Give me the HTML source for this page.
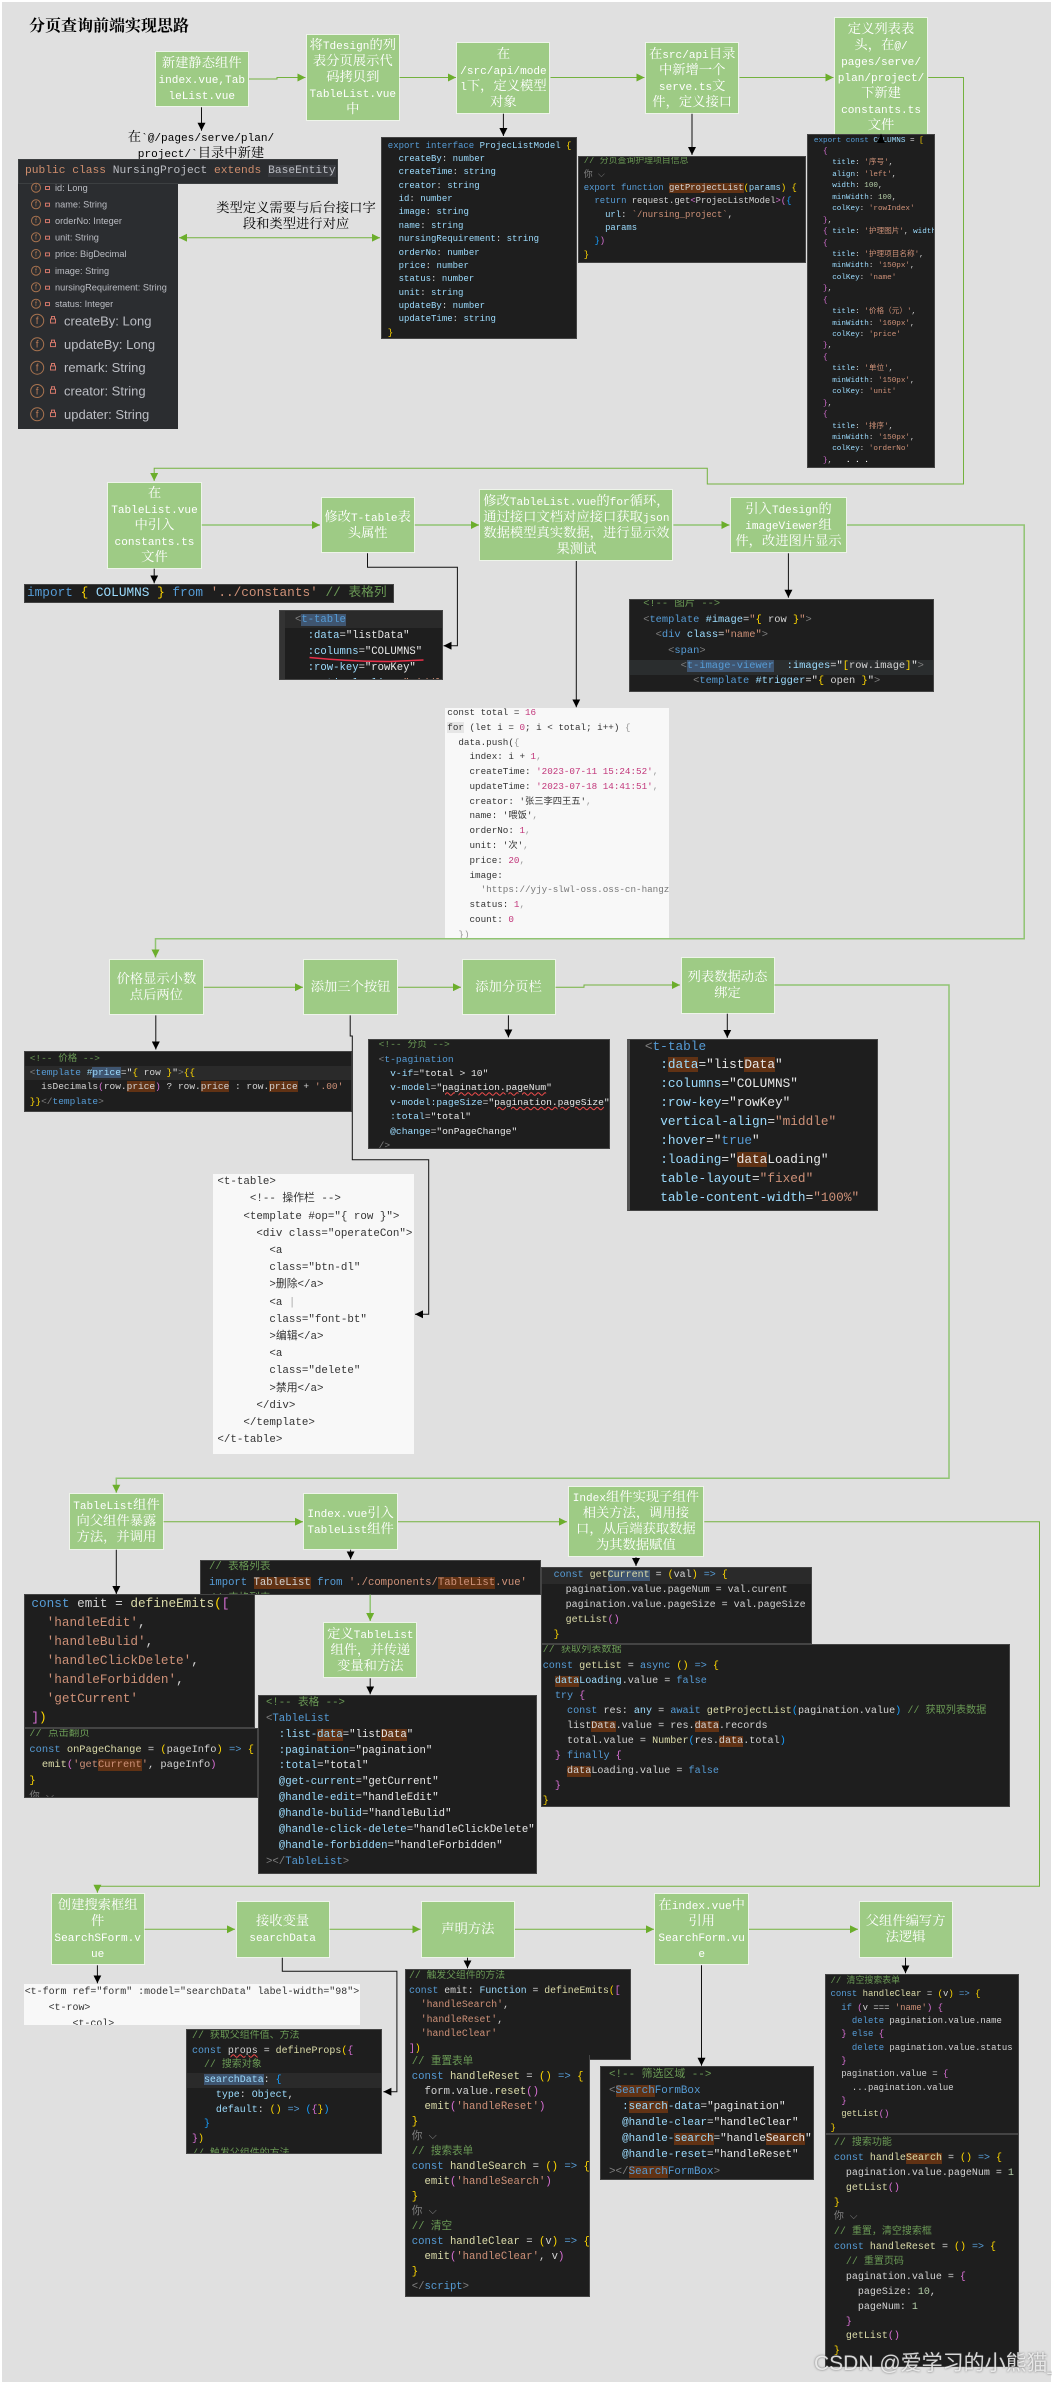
<!DOCTYPE html>
<html><head><meta charset="utf-8"><title>分页查询前端实现思路</title>
<style>
html,body{margin:0;padding:0;background:#fff}
body{position:relative;width:1052px;height:2382px;overflow:hidden}
#bg{position:absolute;left:2px;top:2px;width:1049px;height:2380px;background:#e0e0e0}
.n{position:absolute;box-sizing:border-box;background:#9ecb85;border:1px solid #eef4ea;color:#fff;display:flex;align-items:center;justify-content:center;text-align:center;font:13.3px/16px "Liberation Serif","Noto Serif CJK SC",serif;white-space:nowrap}
.t{position:absolute;color:#000;text-align:center;font:13.3px/16px "Liberation Serif","Noto Serif CJK SC",serif;white-space:nowrap}
.n i,.t i{font-style:normal;font-family:"Liberation Mono",monospace;font-size:11.1px;line-height:0}
pre{position:absolute;box-sizing:border-box;margin:0;overflow:hidden;white-space:pre;background-color:#1e1e1e;border:1px solid #444;color:#d4d4d4;font-family:"Liberation Mono","Noto Sans CJK SC",monospace;filter:blur(.25px)}
pre.w{background-color:#f8f8f8;border:0;color:#333}
pre div{display:block}
.k{color:#569cd6}.f{color:#dcdcaa}.s{color:#ce9178}.c{color:#6a9955}.a{color:#9cdcfe}.y{color:#ffd700}.p{color:#da70d6}.b{color:#179fff}.g{color:#808080}.m{color:#b5cea8}
.h{background:#613214}.e{background:#3f5570}
.r{color:#c2377b}.q{color:#999}
.u{text-decoration:underline wavy #f14c4c 1px}
svg{position:absolute;left:0;top:0}
.gl{fill:none;stroke:#74b23f;stroke-width:1}
.gt{fill:none;stroke:#90c472;stroke-width:1.5}
.bl{fill:none;stroke:#111;stroke-width:1}
</style></head><body>
<div id="bg"></div>
<div style="position:absolute;left:29px;top:16px;font:bold 16px/22px 'Liberation Serif','Noto Serif CJK SC',serif;color:#000;white-space:nowrap">分页查询前端实现思路</div>

<!-- row 1 -->
<div class="n" style="left:154.5px;top:50.7px;width:94.5px;height:56.6px"><span>新建静态组件<br><i>index.vue,Tab</i><br><i>leList.vue</i></span></div>
<div class="n" style="left:306px;top:33.7px;width:93.6px;height:87px"><span>将<i>Tdesign</i>的列<br>表分页展示代<br>码拷贝到<br><i>TableList.vue</i><br>中</span></div>
<div class="n" style="left:456.4px;top:41.7px;width:94.1px;height:72px"><span>在<br><i>/src/api/mode</i><br><i>l</i>下，定义模型<br>对象</span></div>
<div class="n" style="left:644.9px;top:41.7px;width:94.6px;height:72px"><span>在<i>src/api</i>目录<br>中新增一个<br><i>serve.ts</i>文<br>件，定义接口</span></div>
<div class="n" style="left:833.9px;top:17px;width:94.3px;height:120px"><span>定义列表表<br>头，在<i>@/</i><br><i>pages/serve/</i><br><i>plan/project/</i><br>下新建<br><i>constants.ts</i><br>文件</span></div>
<div class="t" style="left:101px;top:128.7px;width:200px">在<i>`@/pages/serve/plan/</i><br><i>project/`</i>目录中新建</div>
<div class="t" style="left:196px;top:200.3px;width:200px">类型定义需要与后台接口字<br>段和类型进行对应</div>

<pre style="left:18px;top:159.3px;width:320.4px;height:24.4px;font-size:11.25px;line-height:22px;padding-left:6px;background-color:#2b2d30;border-color:#3c3f41;color:#bcbec4"><span style="color:#cf8e6d">public class</span> NursingProject <span style="color:#cf8e6d">extends</span> <span style="background:#393b40">BaseEntity</span></pre>
<div style="position:absolute;left:18px;top:183.7px;width:160px;height:245px;background:#2b2d30"></div>
<svg width="1052" height="2382" style="font-family:'Liberation Sans',sans-serif">
<g fill="none" stroke="#a8734f" stroke-width="1">
<circle cx="36" cy="187.7" r="4.5"/><circle cx="36" cy="204.3" r="4.5"/><circle cx="36" cy="220.7" r="4.5"/><circle cx="36" cy="237.3" r="4.5"/><circle cx="36" cy="254" r="4.5"/><circle cx="36" cy="270.7" r="4.5"/><circle cx="36" cy="287.3" r="4.5"/><circle cx="36" cy="303.7" r="4.5"/>
<circle cx="37.2" cy="320.7" r="6.5"/><circle cx="37.2" cy="344.3" r="6.5"/><circle cx="37.2" cy="367.7" r="6.5"/><circle cx="37.2" cy="391" r="6.5"/><circle cx="37.2" cy="414.3" r="6.5"/>
</g>
<g fill="#a8734f" font-size="7" text-anchor="middle"><text x="36" y="190">f</text><text x="36" y="206.6">f</text><text x="36" y="223">f</text><text x="36" y="239.6">f</text><text x="36" y="256.3">f</text><text x="36" y="273">f</text><text x="36" y="289.6">f</text><text x="36" y="306">f</text></g>
<g fill="#b87b57" font-size="10" text-anchor="middle"><text x="37.2" y="324">f</text><text x="37.2" y="347.6">f</text><text x="37.2" y="371">f</text><text x="37.2" y="394.3">f</text><text x="37.2" y="417.6">f</text></g>
<g fill="none" stroke="#d2776a" stroke-width="1">
<rect x="45.5" y="186.5" width="4" height="3"/><rect x="45.5" y="203.2" width="4" height="3"/><rect x="45.5" y="219.6" width="4" height="3"/><rect x="45.5" y="236.2" width="4" height="3"/><rect x="45.5" y="252.9" width="4" height="3"/><rect x="45.5" y="269.6" width="4" height="3"/><rect x="45.5" y="286.2" width="4" height="3"/><rect x="45.5" y="302.6" width="4" height="3"/>
<rect x="50.5" y="319" width="5" height="4"/><rect x="50.5" y="342.6" width="5" height="4"/><rect x="50.5" y="366" width="5" height="4"/><rect x="50.5" y="389.3" width="5" height="4"/><rect x="50.5" y="412.6" width="5" height="4"/>
<path d="M51.5 319v-2.5h3v2.5M51.5 342.6v-2.5h3v2.5M51.5 366v-2.5h3v2.5M51.5 389.3v-2.5h3v2.5M51.5 412.6v-2.5h3v2.5"/>
</g>
<g fill="#bcbec4" font-size="9.2"><text x="55" y="191">id: Long</text><text x="55" y="207.5">name: String</text><text x="55" y="224">orderNo: Integer</text><text x="55" y="240.5">unit: String</text><text x="55" y="257.2">price: BigDecimal</text><text x="55" y="274">image: String</text><text x="55" y="290.5">nursingRequirement: String</text><text x="55" y="307">status: Integer</text></g>
<g fill="#bcbec4" font-size="13"><text x="64" y="325.3">createBy: Long</text><text x="64" y="348.8">updateBy: Long</text><text x="64" y="372.2">remark: String</text><text x="64" y="395.5">creator: String</text><text x="64" y="418.8">updater: String</text></g>
</svg>

<pre style="left:381.3px;top:137px;width:195.7px;height:201.7px;font-size:9px;line-height:13.38px;padding:1.6px 0 0 5.5px"><span class="k">export interface</span> <span class="a">ProjecListModel</span> <span class="y">{</span>
  <span class="a">createBy</span>: <span class="a">number</span>
  <span class="a">createTime</span>: <span class="a">string</span>
  <span class="a">creator</span>: <span class="a">string</span>
  <span class="a">id</span>: <span class="a">number</span>
  <span class="a">image</span>: <span class="a">string</span>
  <span class="a">name</span>: <span class="a">string</span>
  <span class="a">nursingRequirement</span>: <span class="a">string</span>
  <span class="a">orderNo</span>: <span class="a">number</span>
  <span class="a">price</span>: <span class="a">number</span>
  <span class="a">status</span>: <span class="a">number</span>
  <span class="a">unit</span>: <span class="a">string</span>
  <span class="a">updateBy</span>: <span class="a">number</span>
  <span class="a">updateTime</span>: <span class="a">string</span>
<span class="y">}</span></pre>

<pre style="left:578.4px;top:156px;width:227.3px;height:106.7px;font-size:8.9px;line-height:13.33px;padding:0 0 0 4.4px"><div style="margin-top:-1.8px"><span class="c">// 分页查询护理项目信息</span>
<span class="g">你 ⌵</span>
<span class="k">export function</span> <span class="h">getProjectList</span><span class="y">(</span><span class="a">params</span><span class="y">) {</span>
  <span class="k">return</span> request.get<span class="p">&lt;</span>ProjecListModel<span class="p">&gt;</span><span class="p">(</span><span class="b">{</span>
    <span class="a">url</span>: <span class="s">`/nursing_project`</span>,
    <span class="a">params</span>
  <span class="b">}</span><span class="p">)</span>
<span class="y">}</span></div></pre>

<pre style="left:807.4px;top:134px;width:127.6px;height:333.7px;font-size:7.63px;line-height:11.43px;padding:0.6px 0 0 5.5px"><span class="k">export const</span> <span class="a">COLUMNS</span> = <span class="y">[</span>
  <span class="p">{</span>
    <span class="a">title</span>: <span class="s">'序号'</span>,
    <span class="a">align</span>: <span class="s">'left'</span>,
    <span class="a">width</span>: <span class="m">100</span>,
    <span class="a">minWidth</span>: <span class="m">100</span>,
    <span class="a">colKey</span>: <span class="s">'rowIndex'</span>
  <span class="p">}</span>,
  <span class="p">{</span> <span class="a">title</span>: <span class="s">'护理图片'</span>, <span class="a">width</span>: <span class="m">120</span>, colKey: <span class="s">'image'</span> },
  <span class="p">{</span>
    <span class="a">title</span>: <span class="s">'护理项目名称'</span>,
    <span class="a">minWidth</span>: <span class="s">'150px'</span>,
    <span class="a">colKey</span>: <span class="s">'name'</span>
  <span class="p">}</span>,
  <span class="p">{</span>
    <span class="a">title</span>: <span class="s">'价格（元）'</span>,
    <span class="a">minWidth</span>: <span class="s">'160px'</span>,
    <span class="a">colKey</span>: <span class="s">'price'</span>
  <span class="p">}</span>,
  <span class="p">{</span>
    <span class="a">title</span>: <span class="s">'单位'</span>,
    <span class="a">minWidth</span>: <span class="s">'150px'</span>,
    <span class="a">colKey</span>: <span class="s">'unit'</span>
  <span class="p">}</span>,
  <span class="p">{</span>
    <span class="a">title</span>: <span class="s">'排序'</span>,
    <span class="a">minWidth</span>: <span class="s">'150px'</span>,
    <span class="a">colKey</span>: <span class="s">'orderNo'</span>
  <span class="p">}</span>,   <span style="color:#fff;font-weight:bold">. . .</span></pre>

<!-- row 2 -->
<div class="n" style="left:107.2px;top:481.7px;width:94.6px;height:87px"><span>在<br><i>TableList.vue</i><br>中引入<br><i>constants.ts</i><br>文件</span></div>
<div class="n" style="left:320.5px;top:496.7px;width:94.3px;height:56.6px"><span>修改<i>T-table</i>表<br>头属性</span></div>
<div class="n" style="left:479.4px;top:489.3px;width:194px;height:71.7px"><span>修改<i>TableList.vue</i>的<i>for</i>循环，<br>通过接口文档对应接口获取<i>json</i><br>数据模型真实数据，进行显示效<br>果测试</span></div>
<div class="n" style="left:730px;top:496.7px;width:117px;height:56.6px"><span>引入<i>Tdesign</i>的<br><i>imageViewer</i>组<br>件，改进图片显示</span></div>

<pre style="left:24.3px;top:584.3px;width:369.9px;height:19px;font-size:12.75px;line-height:15px;padding-left:1.7px"><span class="k">import</span> <span class="y">{</span> <span class="a">COLUMNS</span> <span class="y">}</span> <span class="k">from</span> <span class="s">'../constants'</span> <span class="c">// 表格列</span></pre>

<pre style="left:279.2px;top:610.3px;width:164px;height:69.4px;font-size:10.6px;line-height:16px;padding:.7px 0 0 14.8px;box-shadow:inset 5px 0 0 #333;background:linear-gradient(#2a2a2a,#2a2a2a) 0 0/100% 17px no-repeat #1e1e1e"><span class="g">&lt;</span><span class="k" style="background:#3f5570">t-table</span>
  <span class="a">:data</span>=<span style="color:#e8e8e8">"listData"</span>
  <span class="a">:columns</span>=<span style="color:#e8e8e8">"COLUMNS"</span>
  <span class="a">:row-key</span>=<span style="color:#e8e8e8">"rowKey"</span>
  <span class="a">vertical-align</span>=<span class="s">"middle"</span></pre>

<pre class="w" style="left:444.6px;top:708.3px;width:224px;height:230.4px;font-size:9.25px;line-height:14.8px;padding-left:2.7px"><div style="margin-top:-2.4px">const total = <span class="r">16</span>
<span style="background:#e6e6e6">for</span> (let i = <span class="r">0</span>; i &lt; total; i++) <span class="q">{</span>
  data.push(<span class="q">{</span>
    index: i + <span class="r">1</span><span class="q">,</span>
    createTime: <span class="r">'2023-07-11 15:24:52'</span><span class="q">,</span>
    updateTime: <span class="r">'2023-07-18 14:41:51'</span><span class="q">,</span>
    creator: '张三李四王五'<span class="q">,</span>
    name: '喂饭'<span class="q">,</span>
    orderNo: <span class="r">1</span><span class="q">,</span>
    unit: '次'<span class="q">,</span>
    price: <span class="r">20</span><span class="q">,</span>
    image:
      <span style="color:#777">'https://yjy-slwl-oss.oss-cn-hangzhou.aliyuncs.com/</span>
    status: <span class="r">1</span><span class="q">,</span>
    count: <span class="r">0</span>
  <span class="q">})</span></div></pre>

<pre style="left:629.3px;top:599px;width:304.7px;height:93px;font-size:10.4px;line-height:15.4px;padding-left:12.9px;background:linear-gradient(#2a2d2e,#2a2d2e) 0 60px/100% 15.4px no-repeat #1e1e1e"><div style="margin-top:-2.7px"><span class="c">&lt;!-- 图片 --&gt;</span>
<span class="g">&lt;</span><span class="k">template</span> <span class="a">#image</span>=<span style="color:#ce9178">"</span><span class="y">{</span> row <span class="y">}</span><span style="color:#ce9178">"</span><span class="g">&gt;</span>
  <span class="g">&lt;</span><span class="k">div</span> <span class="a">class</span>=<span class="s">"name"</span><span class="g">&gt;</span>
    <span class="g">&lt;</span><span class="k">span</span><span class="g">&gt;</span>
      <span class="g">&lt;</span><span class="k" style="background:#3f5570">t-image-viewer</span>  <span class="a">:images</span>=<span style="color:#e8e8e8">"</span><span class="y">[</span>row.image<span class="y">]</span><span style="color:#e8e8e8">"</span><span class="g">&gt;</span>
        <span class="g">&lt;</span><span class="k">template</span> <span class="a">#trigger</span>=<span style="color:#e8e8e8">"</span><span class="y">{</span> open <span class="y">}</span><span style="color:#e8e8e8">"</span><span class="g">&gt;</span></div></pre>

<!-- row 3 -->
<div class="n" style="left:108.9px;top:958.6px;width:95px;height:56.8px"><span>价格显示小数<br>点后两位</span></div>
<div class="n" style="left:303.2px;top:958.6px;width:94.8px;height:56.8px"><span>添加三个按钮</span></div>
<div class="n" style="left:461.5px;top:958.6px;width:94.1px;height:56.8px"><span>添加分页栏</span></div>
<div class="n" style="left:680.5px;top:956.5px;width:94px;height:57.2px"><span>列表数据动态<br>绑定</span></div>

<pre style="left:24.3px;top:1050.5px;width:328px;height:61px;font-size:9.5px;line-height:14.2px;padding:.5px 0 0 4.4px;background:linear-gradient(#2a2a2a,#2a2a2a) 0 14px/100% 14px no-repeat #1e1e1e"><span class="c">&lt;!-- 价格 --&gt;</span>
<span class="g">&lt;</span><span class="k">template</span> <span class="a">#</span><span class="a" style="background:#3f5570">price</span>=<span style="color:#e8e8e8">"</span><span class="y">{</span> row <span class="y">}</span><span style="color:#e8e8e8">"</span><span class="g">&gt;</span><span class="y">{{</span>
  isDecimals<span class="p">(</span>row.<span class="h">price</span><span class="p">)</span> ? row.<span class="h">price</span> : row.<span class="h">price</span> + <span class="s">'.00'</span>
<span class="y">}}</span><span class="g">&lt;/</span><span class="k">template</span><span class="g">&gt;</span></pre>

<pre style="left:367.8px;top:1038.5px;width:242.2px;height:110.2px;font-size:9.65px;line-height:14.4px;padding-left:9.8px"><div style="margin-top:-1.3px"><span class="c">&lt;!-- 分页 --&gt;</span>
<span class="g">&lt;</span><span class="k">t-pagination</span>
  <span class="a">v-if</span>=<span style="color:#e8e8e8">"total &gt; 10"</span>
  <span class="a">v-model</span>=<span style="color:#e8e8e8">"<span class="u">pagination.pageNum</span>"</span>
  <span class="a">v-model:pageSize</span>=<span style="color:#e8e8e8">"<span class="u">pagination.pageSize</span>"</span>
  <span class="a">:total</span>=<span style="color:#e8e8e8">"total"</span>
  <span class="a">@change</span>=<span style="color:#e8e8e8">"onPageChange"</span>
<span class="g">/&gt;</span></div></pre>

<pre class="w" style="left:213.3px;top:1174px;width:200.8px;height:280.4px;font-size:10.83px;line-height:17.2px;padding:.2px 0 0 4.1px">&lt;t-table&gt;
     &lt;!-- 操作栏 --&gt;
    &lt;template #op="{ row }"&gt;
      &lt;div class="operateCon"&gt;
        &lt;a
        class="btn-dl"
        &gt;删除&lt;/a&gt;
        &lt;a <span style="color:#aaa">|</span>
        class="font-bt"
        &gt;编辑&lt;/a&gt;
        &lt;a
        class="delete"
        &gt;禁用&lt;/a&gt;
      &lt;/div&gt;
    &lt;/template&gt;
&lt;/t-table&gt;</pre>

<pre style="left:627.2px;top:1038.5px;width:250.4px;height:172.1px;font-size:12.75px;line-height:18.95px;padding-left:14.7px;border-left:3px solid #555"><div style="margin-top:-2px"><span class="g">&lt;</span><span class="k">t-table</span>
  <span class="a">:</span><span class="a h">data</span>=<span style="color:#e8e8e8">"list<span class="h">Data</span>"</span>
  <span class="a">:columns</span>=<span style="color:#e8e8e8">"COLUMNS"</span>
  <span class="a">:row-key</span>=<span style="color:#e8e8e8">"rowKey"</span>
  <span class="a">vertical-align</span>=<span class="s">"middle"</span>
  <span class="a">:hover</span>=<span style="color:#e8e8e8">"</span><span class="k">true</span><span style="color:#e8e8e8">"</span>
  <span class="a">:loading</span>=<span style="color:#e8e8e8">"<span class="h">data</span>Loading"</span>
  <span class="a">table-layout</span>=<span class="s">"fixed"</span>
  <span class="a">table-content-width</span>=<span class="s">"100%"</span></div></pre>

<!-- row 4 -->
<div class="n" style="left:69.3px;top:1493.3px;width:94.3px;height:56.4px"><span><i>TableList</i>组件<br>向父组件暴露<br>方法，并调用</span></div>
<div class="n" style="left:303.2px;top:1493.3px;width:94.8px;height:56.4px"><span><i>Index.vue</i>引入<br><i>TableList</i>组件</span></div>
<div class="n" style="left:567.5px;top:1485.7px;width:136.8px;height:71.6px"><span><i>Index</i>组件实现子组件<br>相关方法，调用接<br>口，从后端获取数据<br>为其数据赋值</span></div>

<pre style="left:199.5px;top:1560px;width:341.5px;height:34.7px;font-size:10.6px;line-height:16.3px;padding-left:8.5px"><div style="margin-top:-2.4px"><span class="c">// 表格列表</span>
<span class="k">import</span> <span class="h">TableList</span> <span class="k">from</span> <span class="s">'./components/</span><span class="s h">TableList</span><span class="s">.vue'</span>
<span class="c">// 表格列表</span></div></pre>

<pre style="left:24.3px;top:1594.3px;width:231px;height:133.4px;font-size:12.7px;line-height:19px;padding-left:6.1px"><div style="margin-top:-1.8px"><span class="k">const</span> emit = <span class="f">defineEmits</span><span class="y">(</span><span class="p">[</span>
  <span class="s">'handleEdit'</span>,
  <span class="s">'handleBulid'</span>,
  <span class="s">'handleClickDelete'</span>,
  <span class="s">'handleForbidden'</span>,
  <span class="s">'getCurrent'</span>
<span class="p">]</span><span class="y">)</span></div></pre>

<pre style="left:24.3px;top:1727.7px;width:233.7px;height:70.6px;font-size:10.4px;line-height:15.6px;padding-left:4.1px"><div style="margin-top:-1.5px"><span class="c">// 点击翻页</span>
<span class="k">const</span> <span class="f">onPageChange</span> = <span class="y">(</span>pageInfo<span class="y">)</span> <span class="k">=&gt;</span> <span class="y">{</span>
  <span class="f">emit</span><span class="p">(</span><span class="s">'get</span><span class="s h">Current</span><span class="s">'</span>, pageInfo<span class="p">)</span>
<span class="y">}</span>
<span class="g">你 ⌵</span></div></pre>

<div class="n" style="left:323.2px;top:1621.7px;width:94.3px;height:56.6px"><span>定义<i>TableList</i><br>组件，并传递<br>变量和方法</span></div>

<pre style="left:258px;top:1695px;width:279px;height:179px;font-size:10.67px;line-height:15.93px;padding-left:7px"><div style="margin-top:-.3px"><span class="c">&lt;!-- 表格 --&gt;</span>
<span class="g">&lt;</span><span class="k">TableList</span>
  <span class="a">:list-</span><span class="a h">data</span>=<span style="color:#e8e8e8">"list<span class="h">Data</span>"</span>
  <span class="a">:pagination</span>=<span style="color:#e8e8e8">"pagination"</span>
  <span class="a">:total</span>=<span style="color:#e8e8e8">"total"</span>
  <span class="a">@get-current</span>=<span style="color:#e8e8e8">"getCurrent"</span>
  <span class="a">@handle-edit</span>=<span style="color:#e8e8e8">"handleEdit"</span>
  <span class="a">@handle-bulid</span>=<span style="color:#e8e8e8">"handleBulid"</span>
  <span class="a">@handle-click-delete</span>=<span style="color:#e8e8e8">"handleClickDelete"</span>
  <span class="a">@handle-forbidden</span>=<span style="color:#e8e8e8">"handleForbidden"</span>
<span class="g">&gt;&lt;/</span><span class="k">TableList</span><span class="g">&gt;</span></div></pre>

<pre style="left:541.4px;top:1567.3px;width:270.4px;height:76.7px;font-size:10px;line-height:14.95px;padding:.8px 0 0 11.2px;background:linear-gradient(#2a2a2a,#2a2a2a) 0 0/100% 16px no-repeat #1e1e1e"><span class="k">const</span> <span class="f">get</span><span class="f e">Current</span> = <span class="y">(</span>val<span class="y">)</span> <span class="k">=&gt;</span> <span class="y">{</span>
  pagination.value.pageNum = val.curent
  pagination.value.pageSize = val.pageSize
  <span class="f">getList</span><span class="p">()</span>
<span class="y">}</span></pre>

<pre style="left:541.4px;top:1644px;width:468.3px;height:162.7px;font-size:10.15px;line-height:15.1px;padding-left:.3px"><div style="margin-top:-1.55px"><span class="c">// 获取列表数据</span>
<span class="k">const</span> <span class="f">getList</span> = <span class="k">async</span> <span class="y">()</span> <span class="k">=&gt;</span> <span class="y">{</span>
  <span class="a h">data</span><span class="a">Loading</span>.value = <span class="k">false</span>
  <span class="k">try</span> <span class="p">{</span>
    <span class="k">const</span> res: <span class="a">any</span> = <span class="k">await</span> <span class="f">getProjectList</span><span class="b">(</span>pagination.value<span class="b">)</span> <span class="c">// 获取列表数据</span>
    list<span class="h">Data</span>.value = res.<span class="h">data</span>.records
    total.value = <span class="f">Number</span><span class="b">(</span>res.<span class="h">data</span>.total<span class="b">)</span>
  <span class="p">}</span> <span class="k">finally</span> <span class="p">{</span>
    <span class="h">data</span>Loading.value = <span class="k">false</span>
  <span class="p">}</span>
<span class="y">}</span></div></pre>

<!-- row 5 -->
<div class="n" style="left:50.7px;top:1893.3px;width:94px;height:72px"><span>创建搜索框组<br>件<br><i>SearchSForm.v</i><br><i>ue</i></span></div>
<div class="n" style="left:235.6px;top:1901px;width:94px;height:56.7px"><span>接收变量<br><i>searchData</i></span></div>
<div class="n" style="left:420.9px;top:1901px;width:94px;height:56.7px"><span>声明方法</span></div>
<div class="n" style="left:654.4px;top:1893.3px;width:94.6px;height:72px"><span>在<i>index.vue</i>中<br>引用<br><i>SearchForm.vu</i><br><i>e</i></span></div>
<div class="n" style="left:858.7px;top:1901px;width:93.9px;height:56.7px"><span>父组件编写方<br>法逻辑</span></div>

<pre class="w" style="left:24.3px;top:1984.3px;width:335.4px;height:40.4px;font-size:9.96px;line-height:15.7px;padding-left:.4px;background-color:#f8f8f8"><div style="margin-top:-.15px">&lt;t-form ref="form" :model="searchData" label-width="98"&gt;
    &lt;t-row&gt;
        &lt;t-col&gt;</div></pre>

<pre style="left:186.3px;top:2029.3px;width:195.7px;height:124.4px;font-size:9.96px;line-height:14.75px;padding-left:4.7px;background:linear-gradient(#2a2a2a,#2a2a2a) 0 43px/100% 15px no-repeat #1e1e1e"><div style="margin-top:-1.4px"><span class="c">// 获取父组件值、方法</span>
<span class="k">const</span> <span class="u">props</span> = <span class="f">defineProps</span><span class="y">(</span><span class="p">{</span>
  <span class="c">// 搜索对象</span>
  <span class="a e">searchData</span>: <span class="b">{</span>
    <span class="a">type</span>: <span class="a">Object</span>,
    <span class="a">default</span>: <span class="y">()</span> <span class="k">=&gt;</span> <span class="b">(</span><span class="p">{</span><span class="y">}</span><span class="b">)</span>
  <span class="b">}</span>
<span class="p">}</span><span class="y">)</span>
<span class="c">// 触发父组件的方法</span></div></pre>

<pre style="left:405.3px;top:1969px;width:226px;height:91px;font-size:9.8px;line-height:14.6px;padding-left:2.7px"><div style="margin-top:-1px"><span class="c">// 触发父组件的方法</span>
<span class="k">const</span> emit: <span class="a">Function</span> = <span class="f">defineEmits</span><span class="y">(</span><span class="p">[</span>
  <span class="s">'handleSearch'</span>,
  <span class="s">'handleReset'</span>,
  <span class="s">'handleClear'</span>
<span class="p">]</span><span class="y">)</span></div></pre>

<pre style="left:405.3px;top:2054.5px;width:184.3px;height:242.2px;font-size:10.6px;line-height:15px;padding-left:5.5px;border-top:0"><div style="margin-top:.3px"><span class="c">// 重置表单</span>
<span class="k">const</span> <span class="f">handleReset</span> = <span class="y">()</span> <span class="k">=&gt;</span> <span class="y">{</span>
  form.value.<span class="f">reset</span><span class="p">()</span>
  <span class="f">emit</span><span class="p">(</span><span class="s">'handleReset'</span><span class="p">)</span>
<span class="y">}</span>
<span class="g">你 ⌵</span>
<span class="c">// 搜索表单</span>
<span class="k">const</span> <span class="f">handleSearch</span> = <span class="y">()</span> <span class="k">=&gt;</span> <span class="y">{</span>
  <span class="f">emit</span><span class="p">(</span><span class="s">'handleSearch'</span><span class="p">)</span>
<span class="y">}</span>
<span class="g">你 ⌵</span>
<span class="c">// 清空</span>
<span class="k">const</span> <span class="f">handleClear</span> = <span class="y">(</span>v<span class="y">)</span> <span class="k">=&gt;</span> <span class="y">{</span>
  <span class="f">emit</span><span class="p">(</span><span class="s">'handleClear'</span>, v<span class="p">)</span>
<span class="y">}</span>
<span class="g">&lt;/</span><span class="k">script</span><span class="g">&gt;</span></div></pre>

<pre style="left:600.4px;top:2066.3px;width:214.1px;height:113.4px;font-size:10.9px;line-height:16.1px;padding-left:7.6px"><div style="margin-top:-.35px"><span class="c">&lt;!-- 筛选区域 --&gt;</span>
<span class="g">&lt;</span><span class="k"><span class="h">Search</span>FormBox</span>
  <span class="a">:</span><span class="a h">search</span><span class="a">-data</span>=<span style="color:#e8e8e8">"pagination"</span>
  <span class="a">@handle-clear</span>=<span style="color:#e8e8e8">"handleClear"</span>
  <span class="a">@handle-</span><span class="a h">search</span>=<span style="color:#e8e8e8">"handle<span class="h">Search</span>"</span>
  <span class="a">@handle-reset</span>=<span style="color:#e8e8e8">"handleReset"</span>
<span class="g">&gt;&lt;/</span><span class="k"><span class="h">Search</span>FormBox</span><span class="g">&gt;</span></div></pre>

<pre style="left:825px;top:1974.3px;width:194.2px;height:160px;font-size:8.93px;line-height:13.33px;padding-left:4.5px"><div style="margin-top:-.4px"><span class="c">// 清空搜索表单</span>
<span class="k">const</span> <span class="f">handleClear</span> = <span class="y">(</span>v<span class="y">)</span> <span class="k">=&gt;</span> <span class="y">{</span>
  <span class="k">if</span> <span class="p">(</span>v === <span class="s">'name'</span><span class="p">)</span> <span class="p">{</span>
    <span class="k">delete</span> pagination.value.name
  <span class="p">}</span> <span class="k">else</span> <span class="p">{</span>
    <span class="k">delete</span> pagination.value.status
  <span class="p">}</span>
  pagination.value = <span class="p">{</span>
    ...pagination.value
  <span class="p">}</span>
  <span class="f">getList</span><span class="p">()</span>
<span class="y">}</span></div></pre>

<pre style="left:825px;top:2134.3px;width:194.2px;height:233px;font-size:10px;line-height:14.86px;padding:1.9px 0 0 7.9px"><span class="c">// 搜索功能</span>
<span class="k">const</span> <span class="f">handle</span><span class="f h">Search</span> = <span class="y">()</span> <span class="k">=&gt;</span> <span class="y">{</span>
  pagination.value.pageNum = <span class="m">1</span>
  <span class="f">getList</span><span class="p">()</span>
<span class="y">}</span>
<span class="g">你 ⌵</span>
<span class="c">// 重置，清空搜索框</span>
<span class="k">const</span> <span class="f">handleReset</span> = <span class="y">()</span> <span class="k">=&gt;</span> <span class="y">{</span>
  <span class="c">// 重置页码</span>
  pagination.value = <span class="p">{</span>
    pageSize: <span class="m">10</span>,
    pageNum: <span class="m">1</span>
  <span class="p">}</span>
  <span class="f">getList</span><span class="p">()</span>
<span class="y">}</span></pre>

<!-- connectors -->
<svg width="1052" height="2382" viewBox="0 0 1052 2382">
<defs>
<marker id="mg" markerUnits="userSpaceOnUse" markerWidth="8" markerHeight="8" refX="8" refY="4" orient="auto-start-reverse"><path d="M0 0L8 4L0 8z" fill="#6cae2c"/></marker>
<marker id="mk" markerUnits="userSpaceOnUse" markerWidth="8" markerHeight="8" refX="8" refY="4" orient="auto"><path d="M0 0L8 4L0 8z" fill="#000"/></marker>
</defs>
<g>
<path class="gl" d="M249 79H277V77.5H305.5" marker-end="url(#mg)"/>
<path class="gl" d="M399.6 77.5H456" marker-end="url(#mg)"/>
<path class="gl" d="M550.5 77.5H644.5" marker-end="url(#mg)"/>
<path class="gl" d="M739.5 77.5H833.5" marker-end="url(#mg)"/>
<path class="gl" d="M928.2 77.5H963.5V484H707.3V468.3H154.2V481" marker-end="url(#mg)"/>
<path class="gl" d="M179 237.7H380" marker-start="url(#mg)" marker-end="url(#mg)"/>
<path class="gt" d="M201.8 525H320" marker-end="url(#mg)"/>
<path class="gt" d="M414.8 525H479" marker-end="url(#mg)"/>
<path class="gt" d="M673.4 525H729.5" marker-end="url(#mg)"/>
<path class="gt" d="M847 525H1024.2V938.7H155.5V957.5" marker-end="url(#mg)"/>
<path class="gl" d="M203.9 987.2H303" marker-end="url(#mg)"/>
<path class="gl" d="M398 987.2H461" marker-end="url(#mg)"/>
<path class="gl" d="M555.6 987.2H584V985H680" marker-end="url(#mg)"/>
<path class="gt" d="M774.5 985H949V1478.3H116.3V1492.7" marker-end="url(#mg)"/>
<path class="gl" d="M163.6 1521.7H303" marker-end="url(#mg)"/>
<path class="gl" d="M398 1521.7H567" marker-end="url(#mg)"/>
<path class="gl" d="M704.3 1521.7H1039.5V1886.3H97.4V1892.7" marker-end="url(#mg)"/>
<path class="gt" d="M370.2 1594.7V1621" marker-end="url(#mg)"/>
<path class="gl" d="M144.7 1929.3H235" marker-end="url(#mg)"/>
<path class="gl" d="M329.6 1929.3H420.5" marker-end="url(#mg)"/>
<path class="gl" d="M514.9 1929.3H654" marker-end="url(#mg)"/>
<path class="gl" d="M749 1929.3H858" marker-end="url(#mg)"/>
</g>
<path class="bl" d="M201.5 107.3V130.7" marker-end="url(#mk)"/>
<path class="bl" d="M503.4 113.7V136" marker-end="url(#mk)"/>
<path class="bl" d="M692 113.7V155" marker-end="url(#mk)"/>
<polygon points="881,133.5 877,143 885,143" fill="#000"/>
<path class="bl" d="M154.2 568.7V583.3" marker-end="url(#mk)"/>
<path class="bl" d="M367.5 553.3V567.3H457.4V645.7H443.5" marker-end="url(#mk)"/>
<path class="bl" d="M576.3 561V707.3" marker-end="url(#mk)"/>
<path class="bl" d="M788.4 553.3V597.7" marker-end="url(#mk)"/>
<path class="bl" d="M155.8 1015.4V1049.5" marker-end="url(#mk)"/>
<path class="bl" d="M350.2 1015.4V1036H352.3V1159.7H428.7V1314.3H415" marker-end="url(#mk)"/>
<path class="bl" d="M508.4 1015.4V1037.4" marker-end="url(#mk)"/>
<path class="bl" d="M727.3 1013.7V1037.8" marker-end="url(#mk)"/>
<path class="bl" d="M116.3 1549.7V1594" marker-end="url(#mk)"/>
<path class="bl" d="M350.6 1549.7V1559.3" marker-end="url(#mk)"/>
<path class="bl" d="M370.2 1678.3V1694.3" marker-end="url(#mk)"/>
<path class="bl" d="M636 1557.3V1566" marker-end="url(#mk)"/>
<path class="bl" d="M97.4 1965.3V1983.3" marker-end="url(#mk)"/>
<path class="bl" d="M282.3 1957.7V1971.3H396.9V2091.7H383.4" marker-end="url(#mk)"/>
<path class="bl" d="M467.5 1957.7V1968.3" marker-end="url(#mk)"/>
<path class="bl" d="M701.5 1965.3V2065.7" marker-end="url(#mk)"/>
<path class="bl" d="M905.5 1957.7V1973.3" marker-end="url(#mk)"/>
<path d="M309.5 657.5Q350 661.5 390 661.5L423.5 660" fill="none" stroke="#e8304a" stroke-width="1.6"/>
</svg>

<div style="position:absolute;left:814px;top:2350px;font:21px/28px 'Liberation Sans','Noto Sans CJK SC',sans-serif;color:rgba(245,245,245,.85);text-shadow:0 0 2px rgba(60,60,60,.7);white-space:nowrap">CSDN @爱学习的小熊猫_</div>
</body></html>
